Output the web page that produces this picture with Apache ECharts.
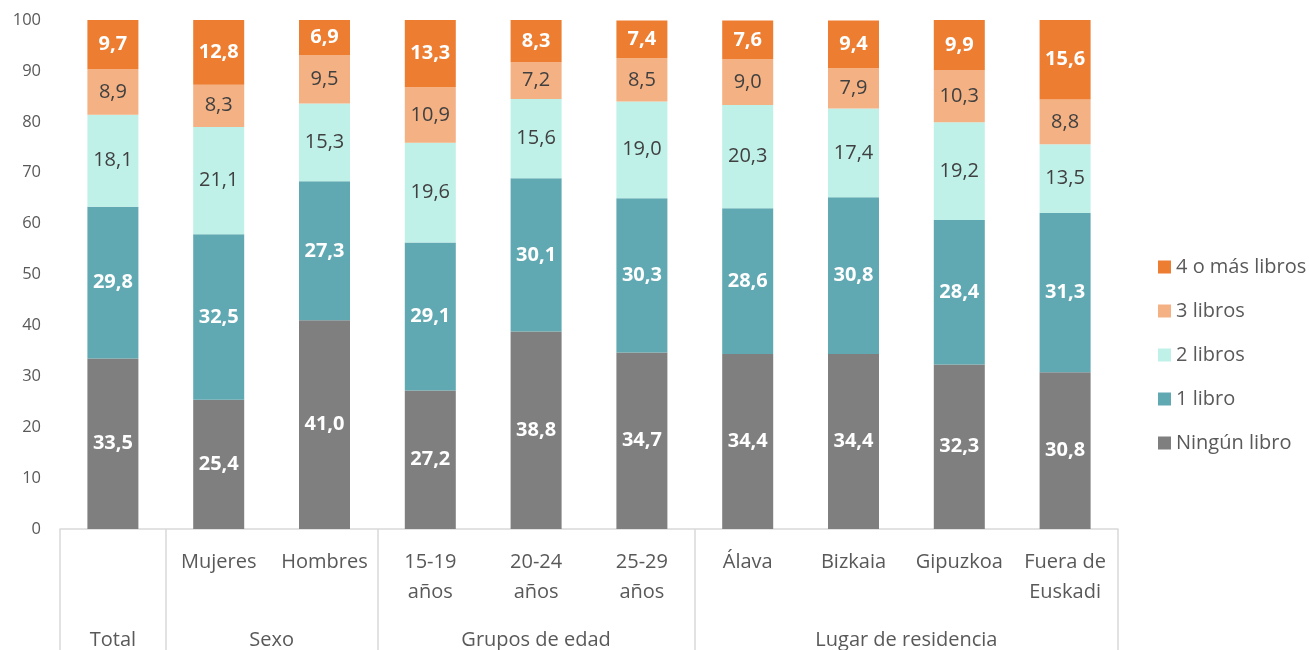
<!DOCTYPE html>
<html lang="es">
  <head>
    <meta charset="UTF-8" />
    <title>Libros</title>
    <style>
      html, body { margin: 0; padding: 0; background: #fff; }
      #main { width: 1309px; height: 650px; }
    </style>
  </head>
  <body>
    <script src="https://cdn.jsdelivr.net/npm/echarts@6/dist/echarts.min.js"></script>
    <div id="main"></div>
    <script>
      const categories = ['', 'Mujeres', 'Hombres', '15-19\naños', '20-24\naños', '25-29\naños', 'Álava', 'Bizkaia', 'Gipuzkoa', 'Fuera de\nEuskadi']
      // groups on the second label level: name and how many bars it spans
      const groupNames = ['Total', 'Sexo', 'Grupos de edad', 'Lugar de residencia']
      const groupSizes = [1, 2, 3, 4]

      const ningun = [33.5, 25.4, 41.0, 27.2, 38.8, 34.7, 34.4, 34.4, 32.3, 30.8]
      const unLibro = [29.8, 32.5, 27.3, 29.1, 30.1, 30.3, 28.6, 30.8, 28.4, 31.3]
      const dosLibros = [18.1, 21.1, 15.3, 19.6, 15.6, 19.0, 20.3, 17.4, 19.2, 13.5]
      const tresLibros = [8.9, 8.3, 9.5, 10.9, 7.2, 8.5, 9.0, 7.9, 10.3, 8.8]
      const cuatroMas = [9.7, 12.8, 6.9, 13.3, 8.3, 7.4, 7.6, 9.4, 9.9, 15.6]

      const yTicks = [0, 100, 10] // min, max, interval

      // group boundaries (category index) and centres (in category units)
      const bounds = []
      const centres = {}
      let acc = 0
      groupSizes.forEach((n, i) => {
        bounds.push(acc)
        centres[(acc + n / 2).toFixed(1)] = groupNames[i]
        acc += n
      })

      const font = 'Open Sans'
      const grey = '#595959'
      const lineCol = '#d9d9d9'

      const fmt = p => p.value.toFixed(1).replace('.', ',')

      function bar (name, data, color, light) {
        return {
          name,
          type: 'bar',
          stack: 'total',
          data,
          barWidth: 51,
          itemStyle: { color },
          label: {
            show: true,
            formatter: fmt,
            fontFamily: font,
            fontSize: 20,
            color: light ? '#404040' : '#fff',
            fontWeight: light ? 'normal' : 'bold'
          }
        }
      }

      const chart = echarts.init(document.getElementById('main'))
      chart.setOption({
        animation: false,
        textStyle: { fontFamily: font },
        grid: { left: 60, right: 191, top: 20, bottom: 121 },
        legend: {
          orient: 'vertical',
          left: 1153,
          top: 252,
          itemWidth: 13,
          itemHeight: 13,
          itemGap: 24,
          icon: 'rect',
          data: ['4 o más libros', '3 libros', '2 libros', '1 libro', 'Ningún libro'],
          textStyle: { fontFamily: font, fontSize: 20, color: grey, lineHeight: 20 }
        },
        xAxis: [
          {
            type: 'category',
            data: categories,
            axisLine: { lineStyle: { color: lineCol, width: 1.5 } },
            axisTick: {
              show: true,
              length: 125,
              interval: idx => bounds.includes(idx),
              lineStyle: { color: lineCol, width: 1.5 }
            },
            axisLabel: {
              interval: 0,
              color: grey,
              fontFamily: font,
              fontSize: 20,
              lineHeight: 30,
              margin: 18
            }
          },
          {
            type: 'value',
            position: 'bottom',
            min: 0,
            max: categories.length,
            interval: 0.5,
            axisLine: { show: false },
            axisTick: { show: false },
            splitLine: { show: false },
            axisLabel: {
              color: grey,
              fontFamily: font,
              fontSize: 20,
              margin: 101,
              showMinLabel: true,
              showMaxLabel: true,
              formatter: v => centres[v.toFixed(1)] || ''
            }
          }
        ],
        yAxis: {
          type: 'value',
          min: yTicks[0],
          max: yTicks[1],
          interval: yTicks[2],
          axisLine: { show: false },
          axisTick: { show: false },
          splitLine: { show: false },
          axisLabel: { color: grey, fontFamily: font, fontSize: 16.5, margin: 19 }
        },
        series: [
          bar('Ningún libro', ningun, '#7f7f7f', false),
          bar('1 libro', unLibro, '#61a9b2', false),
          bar('2 libros', dosLibros, '#bff1e9', true),
          bar('3 libros', tresLibros, '#f4b183', true),
          bar('4 o más libros', cuatroMas, '#ed7d31', false)
        ]
      })
    </script>
  </body>
</html>
